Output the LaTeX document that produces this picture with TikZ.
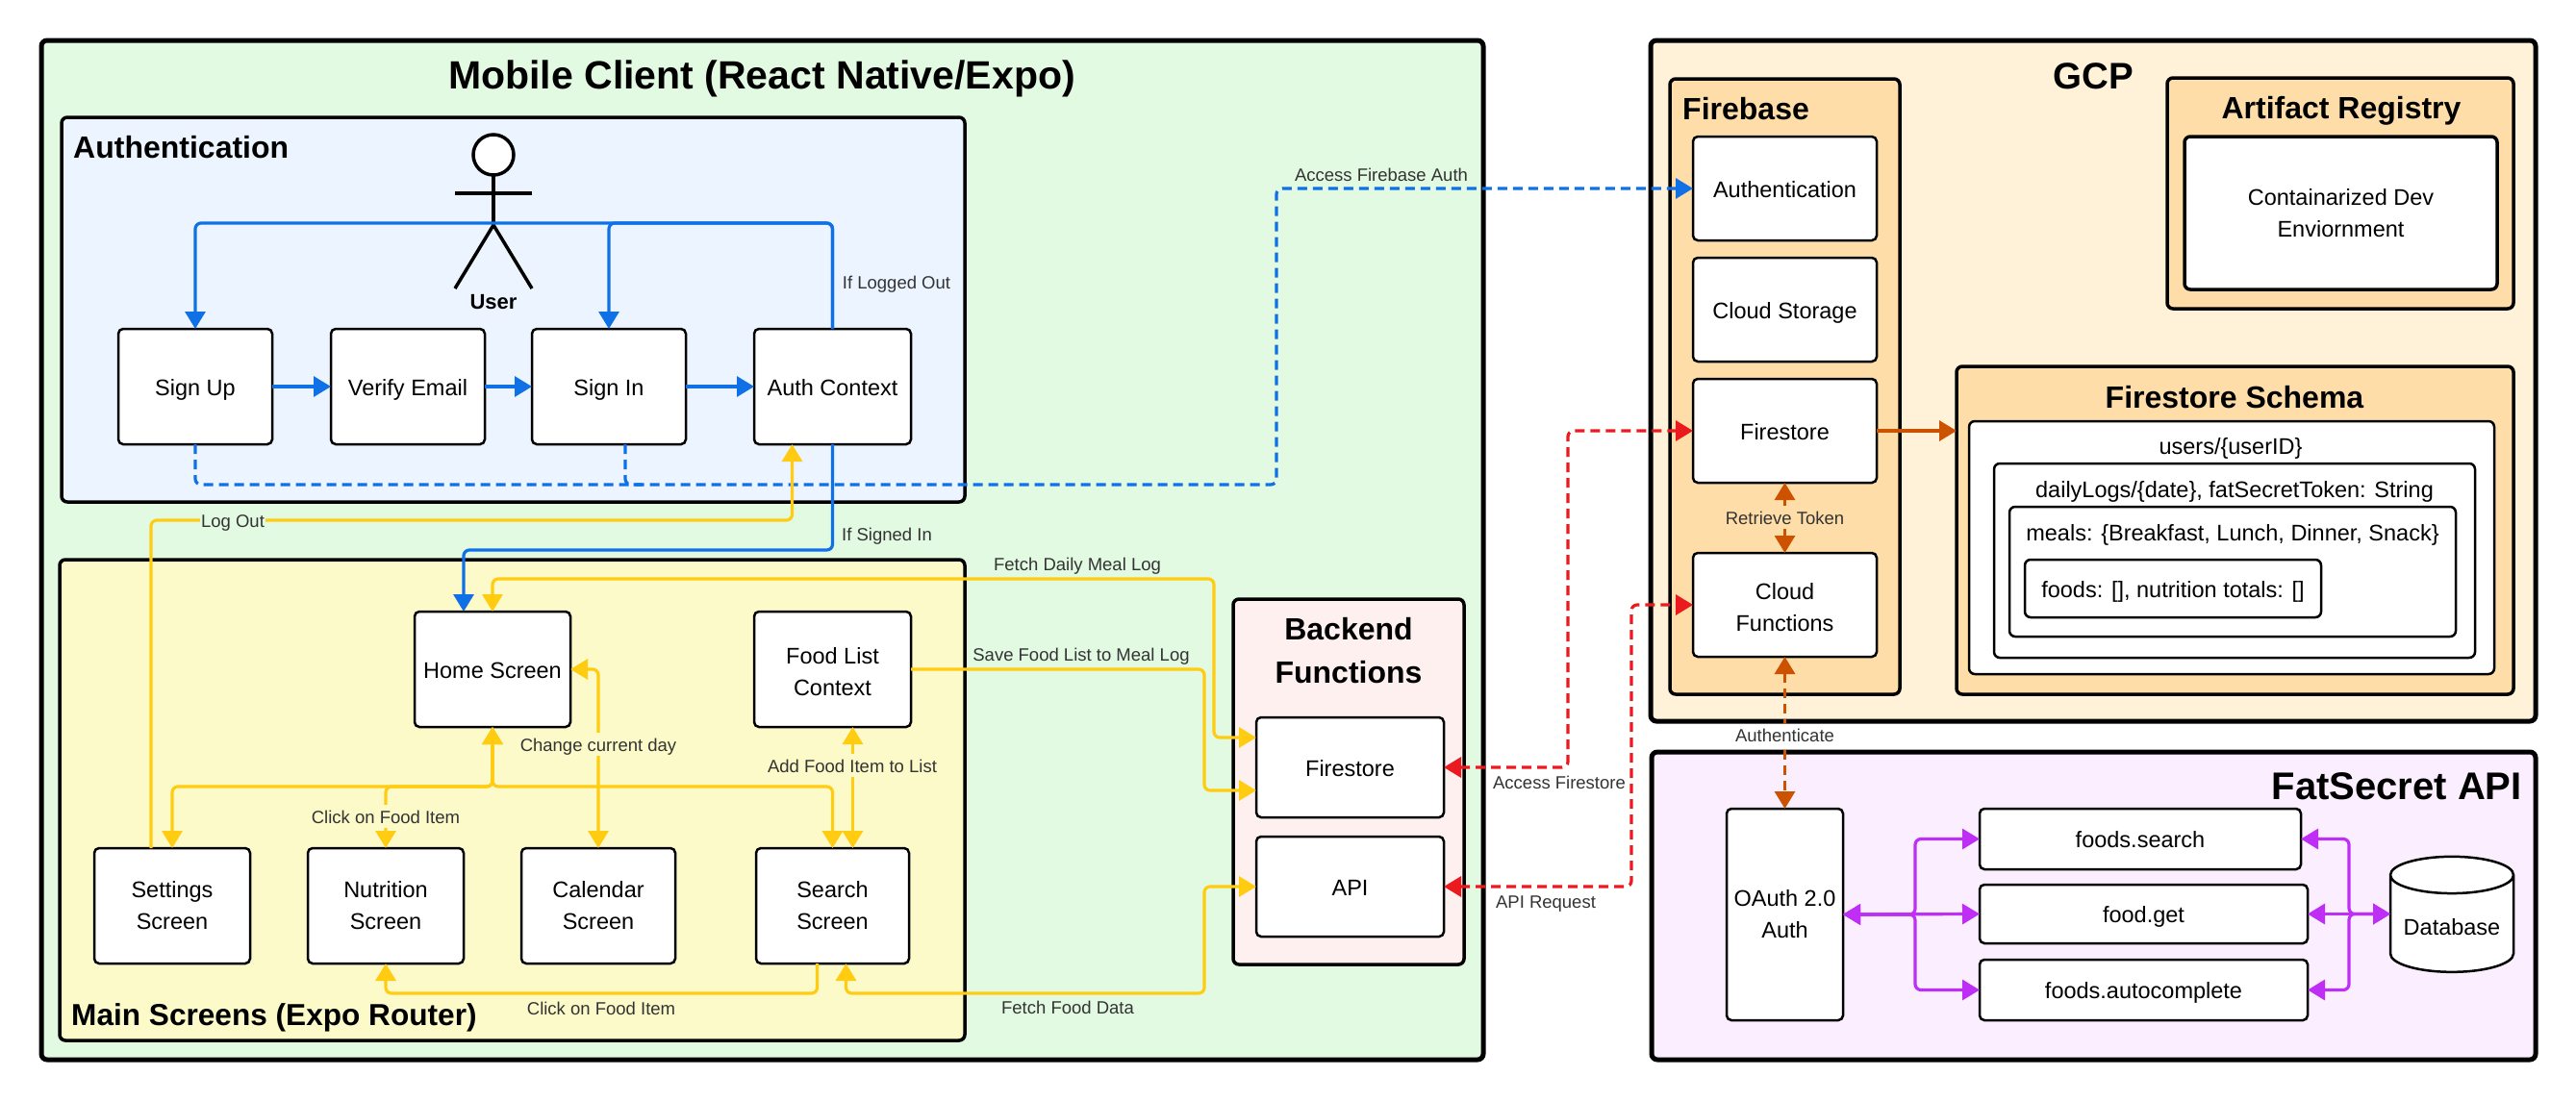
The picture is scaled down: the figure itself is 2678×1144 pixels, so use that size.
\documentclass[tikz,border=0pt]{standalone}
\usepackage{fontspec}
\setmainfont{Liberation Sans}
\usepackage{tikz}
\usetikzlibrary{shapes.geometric, arrows.meta, calc, positioning}
\definecolor{mobilegreen}{HTML}{E2F9E2}
\definecolor{authblue}{HTML}{EBF4FF}
\definecolor{mainyellow}{HTML}{FCFAC8}
\definecolor{backendpink}{HTML}{FFF0F0}
\definecolor{gcpcream}{HTML}{FFF2D9}
\definecolor{firebaseorange}{HTML}{FFDDA8}
\definecolor{fatpurple}{HTML}{FAEEFF}
\definecolor{linkblue}{HTML}{1070E6}
\definecolor{linkyellow}{HTML}{FFCC12}
\definecolor{linkred}{HTML}{EA1A1E}
\definecolor{linkorange}{HTML}{CC5200}
\definecolor{linkpurple}{HTML}{BF2EF5}
\newcommand{\bodyfont}{\fontsize{23.5}{33}\selectfont}
\newcommand{\notefont}{\fontsize{18.5}{22}\selectfont}
\newcommand{\bodystrut}{\rule[-7pt]{0pt}{32pt}}
\newcommand{\notestrut}{\rule[-4pt]{0pt}{22pt}}
\newcommand{\linestrut}{\rule{0pt}{23pt}}
\tikzstyle{group} = [rectangle, rounded corners=6pt, anchor=north west, line width=3.5pt, draw=black, inner sep=0pt, outer sep=0pt]
\tikzstyle{bodytext} = [align=center, font=\bodyfont]
\tikzstyle{single} = [bodytext, execute at begin node=\bodystrut]
\tikzstyle{block} = [rectangle, rounded corners=5pt, line width=2.5pt, draw=black, fill=white, inner sep=0pt, outer sep=0pt, bodytext]
\tikzstyle{title} = [inner sep=0pt, align=center, font=\bfseries\fontsize{32}{45}\selectfont]
\tikzstyle{note} = [inner sep=1pt, text=black!80, font=\notefont, execute at begin node=\notestrut]
\tikzstyle{arrow} = [line width=3.2pt, rounded corners=6pt, -{Triangle[length=18pt,width=21pt]}]
\tikzstyle{both} = [arrow, {Triangle[length=18pt,width=21pt]}-{Triangle[length=18pt,width=21pt]}]
\tikzstyle{dashlink} = [dash pattern=on 10pt off 6pt]
\begin{document}
\begin{tikzpicture}[x=1pt, y=-1pt]
		\useasboundingbox (0,0) rectangle (2678,1144);
		% containers
		\node (MobileClient) [group, line width=5pt, fill=mobilegreen, minimum width=1499pt, minimum height=1060pt] at (43,42) {};
		\node (AuthGroup) [group, fill=authblue, minimum width=939pt, minimum height=400pt] at (64,122) {};
		\node (MainGroup) [group, fill=mainyellow, minimum width=941pt, minimum height=500pt] at (62,582) {};
		\node (BackendGroup) [group, fill=backendpink, minimum width=240pt, minimum height=380pt] at (1282,623) {};
		\node (GcpGroup) [group, line width=5pt, fill=gcpcream, minimum width=920pt, minimum height=708pt] at (1716,42) {};
		\node (FirebaseGroup) [group, fill=firebaseorange, minimum width=239pt, minimum height=640pt] at (1736,82) {};
		\node (ArtifactGroup) [group, fill=firebaseorange, minimum width=360pt, minimum height=240pt] at (2253,81) {};
		\node (SchemaGroup) [group, fill=firebaseorange, minimum width=579pt, minimum height=341pt] at (2034,381) {};
		\node (FatSecretGroup) [group, line width=5pt, fill=fatpurple, minimum width=919pt, minimum height=320pt] at (1717,782) {};
		% titles
		\node (MobileTitle) [title, font=\bfseries\fontsize{41}{45}\selectfont] at (792,82) {Mobile Client (React Native/Expo)};
		\node (AuthTitle) [title, anchor=west] at (76,153) {Authentication};
		\node (MainTitle) [title, anchor=west, font=\bfseries\fontsize{31.6}{45}\selectfont] at (74,1058) {Main Screens (Expo Router)};
		\node (BackendTitle) [title] at (1402,677) {Backend\\Functions};
		\node (GcpTitle) [title, font=\bfseries\fontsize{38.5}{45}\selectfont] at (2176,79) {GCP};
		\node (FirebaseTitle) [title, anchor=west] at (1749,113) {Firebase};
		\node (ArtifactTitle) [title] at (2434,115) {Artifact Registry};
		\node (SchemaTitle) [title] at (2323,413) {Firestore Schema};
		\node (FatSecretTitle) [title, anchor=east, font=\bfseries\fontsize{40}{45}\selectfont] at (2622,818) {FatSecret API};
		% user
		\node (UserHead) [circle, draw=black, fill=white, line width=3.5pt, minimum size=42pt, inner sep=0pt, outer sep=0pt] at (513,161) {};
		\coordinate (UserHip) at (513,234);
		\draw [line width=3.5pt] (UserHead.south) -- (UserHip);
		\draw [line width=3.5pt] (473,201) -- (553,201);
		\draw [line width=3.5pt] (473,300) -- (UserHip) -- (553,300);
		\node (UserName) [inner sep=0pt, font=\bfseries\fontsize{22}{26}\selectfont] at (513,314) {User};
		% authentication
		\node (SignUp) [block, single, minimum width=160pt, minimum height=120pt] at (203,402) {Sign Up};
		\node (VerifyEmail) [block, single, minimum width=160pt, minimum height=120pt, right = 61pt of SignUp] {Verify Email};
		\node (SignIn) [block, single, minimum width=160pt, minimum height=120pt, right = 49pt of VerifyEmail] {Sign In};
		\node (AuthContext) [block, single, minimum width=163pt, minimum height=120pt, right = 71pt of SignIn] {Auth Context};
		% main screens
		\node (HomeScreen) [block, single, minimum width=162pt, minimum height=120pt] at (512,696) {Home Screen};
		\node (FoodListContext) [block, minimum width=163pt, minimum height=120pt] at (865.5,696) {\linestrut Food List\\Context};
		\node (SettingsScreen) [block, minimum width=162pt, minimum height=120pt] at (179,942) {Settings\\Screen};
		\node (NutritionScreen) [block, minimum width=162pt, minimum height=120pt, right = 60pt of SettingsScreen] {Nutrition\\Screen};
		\node (CalendarScreen) [block, minimum width=160pt, minimum height=120pt, right = 60pt of NutritionScreen] {Calendar\\Screen};
		\node (SearchScreen) [block, minimum width=159pt, minimum height=120pt, right = 84pt of CalendarScreen] {Search\\Screen};
		% backend
		\node (BackendFirestore) [block, single, minimum width=195pt, minimum height=104pt] at (1403.5,798) {Firestore};
		\node (BackendApi) [block, single, minimum width=195pt, minimum height=104pt, below = 20pt of BackendFirestore] {API};
		% firebase
		\node (FirebaseAuth) [block, single, minimum width=191pt, minimum height=108pt] at (1855.5,196) {Authentication};
		\node (CloudStorage) [block, single, minimum width=191pt, minimum height=108pt, below = 18pt of FirebaseAuth] {Cloud Storage};
		\node (FirebaseFirestore) [block, single, minimum width=191pt, minimum height=108pt, below = 18pt of CloudStorage] {Firestore};
		\node (CloudFunctions) [block, minimum width=191pt, minimum height=108pt, below = 73pt of FirebaseFirestore] {\linestrut Cloud\\Functions};
		% gcp
		\node (DevContainer) [group, line width=3.5pt, fill=white, bodytext, minimum width=325pt, minimum height=159pt] at (2271,142) {Containarized Dev\\Enviornment};
		\node (UsersBox) [group, line width=2.5pt, fill=white, minimum width=546pt, minimum height=263pt] at (2047,438) {};
		\node (LogsBox) [group, line width=2.5pt, fill=white, minimum width=500pt, minimum height=202pt] at (2073,482) {};
		\node (MealsBox) [group, line width=2.5pt, fill=white, minimum width=464pt, minimum height=135pt] at (2089,527) {};
		\node (FoodsBox) [group, line width=2.5pt, fill=white, single, minimum width=308pt, minimum height=60pt] at (2105,582) {foods: [], nutrition totals: []};
		\node (UsersText) [single, inner sep=0pt] at (2319,463) {users/\{userID\}};
		\node (LogsText) [single, inner sep=0pt] at (2323,508) {dailyLogs/\{date\}, fatSecretToken: String};
		\node (MealsText) [single, inner sep=0pt] at (2321,553) {meals: \{Breakfast, Lunch, Dinner, Snack\}};
		% fatsecret
		\node (OAuth) [block, minimum width=121pt, minimum height=220pt] at (1855.5,951) {OAuth 2.0\\Auth};
		\node (FoodsSearch) [block, single, minimum width=334pt, minimum height=63pt] at (2225,872.5) {foods.search};
		\node (FoodGet) [block, single, minimum width=341pt, minimum height=61pt] at (2228.5,950.5) {food.get};
		\node (FoodsAutocomplete) [block, single, minimum width=341pt, minimum height=63pt] at (2228.5,1029.5) {foods.autocomplete};
		\node (Database) [cylinder, shape border rotate=90, aspect=0.38, draw=black, fill=white, line width=2.5pt, inner sep=0pt, outer sep=0pt, font=\bodyfont, execute at begin node=\linestrut, minimum width=128pt, minimum height=120pt] at (2549,961) {Database};
		\coordinate (DatabasePort) at (FoodGet.east -| Database.west);
		% blue links
		\draw [arrow, linkblue] (AuthContext.north) -- ++(0,-110) -| (SignUp.north);
		\draw [arrow, linkblue] (AuthContext.north) -- ++(0,-110) -| (SignIn.north);
		\draw [arrow, linkblue] (SignUp) -- (VerifyEmail);
		\draw [arrow, linkblue] (VerifyEmail) -- (SignIn);
		\draw [arrow, linkblue] (SignIn) -- (AuthContext);
		\draw [arrow, linkblue] (AuthContext.south) -- ++(0,110) -| ($(HomeScreen.north)+(-30,0)$);
		\coordinate (AuthTurn) at (1327,504);
		\coordinate (SignInJoin) at (668,504);
		\draw [arrow, dashlink, linkblue] (SignUp.south) |- (AuthTurn) |- (FirebaseAuth.west);
		\draw [line width=3.2pt, rounded corners=6pt, dashlink, linkblue] ($(SignIn.south)+(17,0)$) |- (SignInJoin);
		% yellow links
		\draw [arrow, linkyellow] ($(SettingsScreen.north)+(-22,0)$) |- ($(AuthContext.south)+(-42,79)$) -- ($(AuthContext.south)+(-42,0)$);
		\draw [both, linkyellow] (HomeScreen.south) -- ++(0,62) -| (SettingsScreen.north);
		\draw [both, linkyellow] (HomeScreen.south) -- ++(0,62) -| (NutritionScreen.north);
		\draw [both, linkyellow] (HomeScreen.south) -- ++(0,62) -| (SearchScreen.north);
		\draw [both, linkyellow] (HomeScreen.east) -| (CalendarScreen.north);
		\draw [both, linkyellow] ($(FoodListContext.south)+(21,0)$) -- ($(SearchScreen.north)+(21,0)$);
		\draw [arrow, linkyellow] ($(SearchScreen.south)+(-16,0)$) -- ++(0,31) -| (NutritionScreen.south);
		\coordinate (FetchDailyTurn) at (1262,602);
		\coordinate (SaveTurn) at (1252,696);
		\coordinate (FetchDataTurn) at (1252,1033);
		\draw [both, linkyellow] (HomeScreen.north) |- (FetchDailyTurn) |- ($(BackendFirestore.west)+(0,-31)$);
		\draw [arrow, linkyellow] (FoodListContext.east) -- (SaveTurn) |- ($(BackendFirestore.west)+(0,24)$);
		\draw [both, linkyellow] ($(SearchScreen.south)+(14,0)$) |- (FetchDataTurn) |- (BackendApi.west);
		% red links
		\coordinate (AccessTurn) at (1630,798);
		\coordinate (ApiTurn) at (1696,922);
		\draw [both, dashlink, linkred] (BackendFirestore.east) -- (AccessTurn) |- (FirebaseFirestore.west);
		\draw [both, dashlink, linkred] (BackendApi.east) -- (ApiTurn) |- (CloudFunctions.west);
		% orange links
		\draw [arrow, linkorange] (FirebaseFirestore.east) -- (FirebaseFirestore.east -| SchemaGroup.west);
		\draw [both, linkorange] (FirebaseFirestore.south) -- (CloudFunctions.north);
		\draw [both, dashlink, linkorange] (CloudFunctions.south) -- (OAuth.north);
		% purple links
		\draw [both, linkpurple] (OAuth.east) -- ++(75,0) |- (FoodsSearch.west);
		\draw [both, linkpurple] (OAuth.east) -- (FoodGet.west);
		\draw [both, linkpurple] (OAuth.east) -- ++(75,0) |- (FoodsAutocomplete.west);
		\draw [both, linkpurple] (FoodsSearch.east) -- ++(50,0) |- (DatabasePort);
		\draw [both, linkpurple] (FoodGet.east) -- (DatabasePort);
		\draw [both, linkpurple] (FoodsAutocomplete.east) -- ++(43,0) |- (DatabasePort);
		% link notes
		\node (LoggedOutNote) [note] at (932,293) {If Logged Out};
		\node (SignedInNote) [note] at (922,555) {If Signed In};
		\node (LogOutNote) [note, fill=mobilegreen] at (242,541) {Log Out};
		\node (FirebaseAuthNote) [note] at (1436,181) {Access Firebase Auth};
		\node (FetchDailyNote) [note] at (1120,586) {Fetch Daily Meal Log};
		\node (SaveListNote) [note] at (1124,680) {Save Food List to Meal Log};
		\node (DayNote) [note, fill=mainyellow] at (622,774) {Change current day};
		\node (AddItemNote) [note, fill=mainyellow] at (886,796) {Add Food Item to List};
		\node (ClickNote) [note, fill=mainyellow] at (401,849) {Click on Food Item};
		\node (ClickSearchNote) [note] at (625,1048) {Click on Food Item};
		\node (FetchDataNote) [note] at (1110,1047) {Fetch Food Data};
		\node (AccessNote) [note] at (1621,813) {Access Firestore};
		\node (ApiNote) [note] at (1607,937) {API Request};
		\node (TokenNote) [note, fill=firebaseorange] at (1855.5,538) {Retrieve Token};
		\node (AuthenticateNote) [note, inner ysep=0pt, fill=white] at (1855.5,764) {Authenticate};
\end{tikzpicture}
\end{document}
